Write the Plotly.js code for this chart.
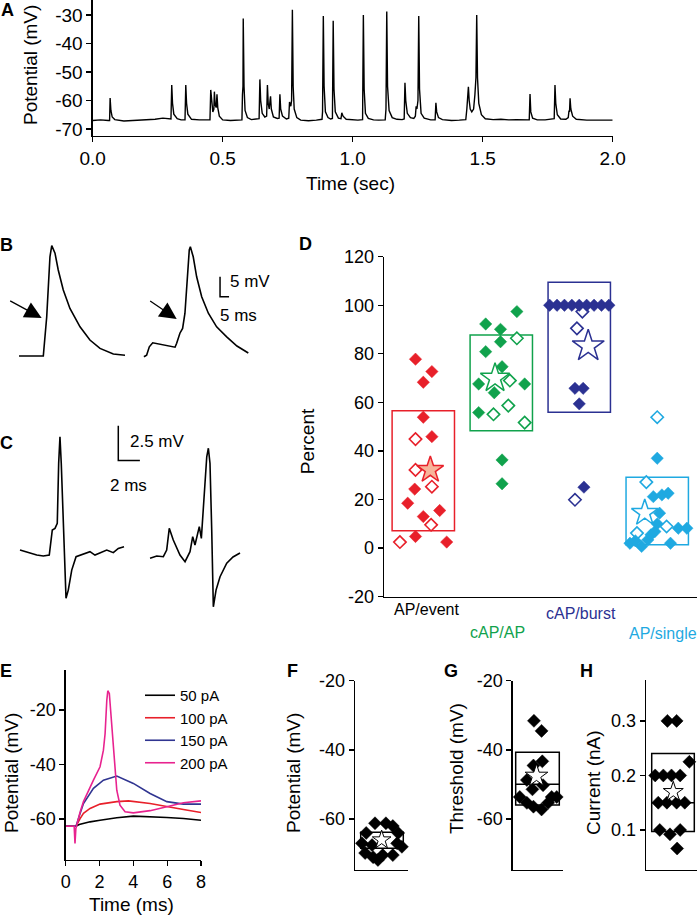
<!DOCTYPE html>
<html><head><meta charset="utf-8">
<script src="https://cdn.plot.ly/plotly-3.0.1.min.js"></script>
<style>html,body{margin:0;padding:0;background:#fff}#chart{width:700px;height:916px}</style>
</head><body><div id="chart"></div>
<script>
// ---------- Panel A: spontaneous trace (time s, potential mV) ----------
const tA = [0,0.03,0.06,0.065,0.067,0.070,0.075,0.085,0.12,0.16,0.2,0.24,0.27,0.29,0.301,0.304,0.307,0.312,0.325,0.34,0.355,0.358,0.361,0.366,0.38,0.41,0.44,0.451,0.454,0.458,0.462,0.466,0.468,0.471,0.475,0.478,0.481,0.487,0.5,0.53,0.56,0.574,0.576,0.578,0.579,0.582,0.586,0.595,0.61,0.63,0.64,0.643,0.646,0.652,0.662,0.669,0.672,0.675,0.679,0.682,0.684,0.687,0.695,0.71,0.717,0.72,0.723,0.73,0.745,0.754,0.757,0.762,0.765,0.768,0.771,0.775,0.785,0.8,0.83,0.86,0.882,0.884,0.887,0.89,0.895,0.905,0.915,0.922,0.925,0.928,0.933,0.945,0.955,0.958,0.963,0.975,1.0,1.02,1.038,1.041,1.044,1.049,1.06,1.08,1.1,1.125,1.128,1.131,1.134,1.14,1.152,1.17,1.19,1.198,1.201,1.204,1.21,1.222,1.235,1.241,1.244,1.247,1.251,1.254,1.257,1.263,1.275,1.3,1.317,1.32,1.323,1.33,1.345,1.38,1.41,1.435,1.439,1.442,1.445,1.448,1.452,1.458,1.465,1.47,1.474,1.477,1.48,1.485,1.495,1.51,1.54,1.57,1.6,1.63,1.66,1.679,1.682,1.685,1.692,1.71,1.74,1.765,1.775,1.778,1.781,1.787,1.8,1.82,1.829,1.832,1.834,1.836,1.839,1.846,1.86,1.9,1.95,2.0];
const vA = [-67.0,-66.8,-67.0,-67.0,-59.1,-63.5,-65.8,-66.7,-67.2,-67.0,-66.9,-66.6,-66.2,-66.4,-66.5,-54.6,-61,-64.8,-66.4,-66.8,-66.8,-54.6,-61,-64.8,-66.6,-66.8,-66.9,-66.8,-56.3,-62,-64,-63,-56.9,-61.5,-62.5,-57.8,-62.5,-65.5,-66.8,-67.0,-66.9,-66.8,-58,-55,-31.2,-55,-63.5,-66,-66.7,-66.6,-66.4,-52.6,-60,-64.5,-65.8,-65.5,-54.6,-61,-63,-60,-58.5,-63,-65.8,-66.3,-66.2,-57.8,-63,-65.5,-66.5,-66.2,-60.5,-62,-60,-28.2,-55,-63,-66,-66.9,-67.1,-66.9,-66.6,-64,-30.4,-55,-64,-66,-66.5,-66.3,-32.0,-56,-64,-66.2,-66.4,-64.3,-65.5,-66.6,-66.9,-66.9,-66.7,-30.0,-56,-64.5,-66.3,-66.8,-66.9,-66.8,-63,-28.8,-55,-63.5,-66,-66.6,-66.7,-66.5,-53.8,-60,-64.5,-66,-66.3,-65.5,-62,-63,-60,-30.4,-56,-64.5,-66.2,-66.8,-66.8,-60.8,-64,-66,-66.7,-67.0,-66.9,-66.7,-63,-57,-55.2,-60,-63,-64,-63,-58,-52,-30.0,-52,-61,-65,-66.4,-66.7,-66.6,-66.8,-66.7,-66.9,-66.8,-57.7,-64,-66.2,-66.8,-66.8,-66.6,-66.4,-54.6,-61,-65,-66.5,-66.6,-66,-63.5,-64,-59.2,-63,-65.5,-66.6,-66.9,-66.9,-66.9];
const tickA_x = [0,0.5,1,1.5,2];
const tickA_xText = ['0.0','0.5','1.0','1.5','2.0'];
const tickA_y = [-70,-60,-50,-40,-30];

// ---------- Panel B: two events (ms, mV relative to baseline) ----------
const bLeftX = [0,13.5,15.4,17.2,18.2,20,21.8,24.6,28.3,33.9,39.4,45,52.4,58.9];
const bLeftY = [0,0,9.8,24.8,27.6,25.7,21.5,16.5,11.9,7.3,4,1.9,0.5,0.2];
const bRightX = [69.4,70.9,72.4,74.3,86.7,87.6,89.4,90.9,92.2,93.5,94.6,95.2,96.8,98.7,101.5,105.2,109.8,115.4,121.1,127.4];
const bRightY = [-0.2,0.2,2.3,3.3,2.2,3.2,5.7,6.9,10.7,19,26.5,27.3,24.8,19.8,14.8,10.7,7.3,4.8,2.5,0.75];
const bArrowX = [12.6,87.6];
const bArrowY = [9.5,9.25];
const bScale = {x0:111.7, y0:14.8, dx:5, dy:5};

// ---------- Panel C: extracellular events (ms, mV) ----------
const cLeftX = [0,0.46,0.93,1.55,2.16,2.71,2.84,2.99,3.24,3.45,3.58,3.7,3.82,4.01,4.17,4.26,4.47,4.79,5.19,5.56,6.02,6.48,6.94,7.41,8.03,8.64,9.1,9.63];
const cLeftY = [0.12,0,-0.12,-0.24,-0.31,-0.24,0.6,1.56,1.68,2.04,6.36,8.27,6.36,2.04,-2.04,-3.35,-2.76,-1.32,-0.36,-0.24,-0.12,0,-0.24,-0.07,0.12,-0.07,0.24,0.36];
const cRightX = [12.04,12.66,13.27,13.58,13.82,14.19,14.81,15.28,15.74,15.99,16.2,16.6,16.79,17.04,17.29,17.44,17.59,17.75,17.9,18.15,18.52,19.14,19.72,20.37];
const cRightY = [-0.47,-0.31,-0.36,0.12,1.68,0.84,-0.24,-0.72,0,1.08,0.48,1.8,0.96,3.96,6.83,7.44,6.36,1.56,-3.96,-2.76,-1.8,-0.83,-0.38,-0.09];
const cScale = {x0:9.1, y0:6.55, dx:2, dy:2.5};

// ---------- Panel D: percent per category ----------
const dCategories = ['AP/event','cAP/AP','cAP/burst','AP/single'];
const dBoxLow  = [7.2, 48.3, 56.0, 1.4];
const dBoxHigh = [56.6, 87.8, 109.5, 29.2];
const redFilledX = [0.90,1.11,1.00,1.00,1.11,0.89,0.80,1.00,1.21,0.90,1.30];
const redFilledY = [77.8,72.7,68.3,53.9,45.9,24.3,18.5,13.0,15.5,4.8,2.5];
const redOpenX = [0.90,0.90,1.11,1.10,0.70];
const redOpenY = [44.9,32.2,25.3,9.6,2.5];
const greenFilledX = [2.20,1.80,1.99,1.99,1.80,2.01,1.71,2.30,1.91,1.71,2.01,2.01];
const greenFilledY = [97.4,92.3,90.1,85.0,80.9,74.7,67.6,67.6,64.0,55.8,36.3,26.5];
const greenOpenX = [2.20,2.11,2.09,1.90,2.30];
const greenOpenY = [86.4,69.0,58.7,55.1,51.7];
const blueFilledX = [2.62,2.715,2.81,2.905,3.0,3.095,3.19,3.285,3.38,2.945,3.05,3.0,3.06];
const blueFilledY = [100,100,100,100,100,100,100,100,100,65.8,65.8,59.4,25.1];
const blueOpenX = [3.04,2.97,2.945];
const blueOpenY = [97.4,90.5,19.9];
const cyanFilledX = [4.00,3.95,4.06,4.14,4.03,3.65,3.72,3.80,3.88,3.92,3.97,4.00,4.17,4.27,4.38];
const cyanFilledY = [37.0,21.2,21.9,22.6,14.4,2.0,3.0,0.7,3.4,5.5,6.8,10.0,2.0,8.2,8.2];
const cyanOpenX = [4.00,3.86,3.74,4.12];
const cyanOpenY = [53.9,27.2,6.2,8.9];
const dStarX = [1.09,1.92,3.115,3.84];
const dStarY = [32.2,70.0,83.2,14.5];
const dTicks = [-20,0,20,40,60,80,100,120];

// ---------- Panel E: responses to current steps (ms, mV) ----------
const eLabels = ['50 pA','100 pA','150 pA','200 pA'];
const e50X = [0,0.55,0.61,0.8,1.05,1.44,2.03,3.02,4.0,4.99,5.98,6.96,8.0];
const e50Y = [-62.6,-62.6,-62.6,-62.0,-61.6,-61.0,-60.4,-59.5,-58.9,-59.1,-59.4,-59.8,-60.4];
const e100X = [0,0.55,0.61,0.85,1.05,1.44,2.03,3.02,3.71,4.99,5.98,6.96,8.0];
const e100Y = [-62.6,-62.6,-62.6,-59.8,-57.9,-56.1,-54.5,-53.6,-53.3,-54.3,-55.5,-56.5,-57.6];
const e150X = [0,0.55,0.61,0.85,1.05,1.64,2.23,3.02,4.0,4.99,5.98,6.96,8.0];
const e150Y = [-62.6,-62.6,-62.6,-57.9,-54.3,-48.7,-45.7,-44.2,-46.9,-50.6,-53.6,-54.5,-54.5];
const e200X = [0,0.5,0.55,0.6,0.85,1.05,1.64,2.03,2.23,2.33,2.43,2.49,2.58,2.68,2.82,3.02,3.21,3.51,4.0,4.99,5.98,6.96,8.0];
const e200Y = [-62.6,-62.6,-68.9,-63.5,-57.5,-53.6,-45.7,-40.8,-34.7,-28.6,-16.4,-12.9,-13.9,-22.4,-34.7,-49.4,-54.9,-57.3,-57.7,-56.9,-55.5,-54.0,-53.3];
const mvTicks = [-60,-40,-20];

// ---------- Panels F, G, H ----------
const fX = [0.375,0.58,0.71,0.21,0.81,0.13,0.32,0.79,0.88,0.19,0.34,0.52,0.71,0.43];
const fY = [-61.2,-61.2,-62,-64,-64,-67,-67.5,-67,-68,-69.8,-71,-70.4,-70.4,-71.8];
const fStar = {x:0.5, y:-66};
const fBox = {low:-68.4, high:-63.8};
const gX = [0.42,0.57,0.585,0.41,0.28,0.60,0.39,0.14,0.77,0.87,0.28,0.41,0.57,0.70];
const gY = [-31.6,-34.5,-43.3,-44.5,-48.7,-50.2,-51.4,-53.6,-53.6,-53.6,-55.3,-56.4,-57.2,-55.3];
const gStar = {x:0.47, y:-47.5};
const gBox = {low:-55.9, high:-40.7, median:-49.9};
const hX = [0.42,0.60,0.85,0.18,0.34,0.50,0.67,0.24,0.41,0.60,0.76,0.27,0.67,0.47,0.61];
const hY = [0.3,0.3,0.225,0.2,0.2,0.2,0.2,0.15,0.15,0.15,0.15,0.1,0.1,0.092,0.066];
const hStar = {x:0.535, y:0.17};
const hBox = {low:0.097, high:0.24, median:0.15};
const hTicks = [0.1,0.2,0.3];

// ---------- styling ----------
const W = 700, H = 916;
const px = x => x / W;
const py = y => 1 - y / H;
const FONT = 'Liberation Sans, Arial, Helvetica, sans-serif';
const RED = '#e8202a', GREEN = '#10a24c', NAVY = '#2b3192', CYAN = '#1fa9e1';
const hy = v => String(v); // plain hyphen-minus labels as in the original

function ax(extra) {
  return Object.assign({showgrid:false, zeroline:false, showline:true, linecolor:'#000', linewidth:1.3,
    ticks:'outside', ticklen:5, tickwidth:1.3, tickcolor:'#000', tickfont:{size:18, color:'#000'},
    fixedrange:true}, extra);
}
function hidden(extra) {
  return Object.assign({visible:false, showgrid:false, zeroline:false, fixedrange:true}, extra);
}
function line(x, y, xa, ya, color, width, extra) {
  return Object.assign({type:'scatter', mode:'lines', x:x, y:y, xaxis:xa, yaxis:ya,
    line:{color:color, width:width || 1.5}, showlegend:false, hoverinfo:'skip', cliponaxis:false}, extra || {});
}
function pts(x, y, xa, ya, fill, edge, size, symbol, lw) {
  return {type:'scatter', mode:'markers', x:x, y:y, xaxis:xa, yaxis:ya, showlegend:false,
    cliponaxis:false, hoverinfo:'skip',
    marker:{symbol:symbol || 'diamond', size:size, color:fill, line:{color:edge, width:lw}}};
}
function scaleBar(s, xa, ya) {
  return line([s.x0, s.x0, s.x0 + s.dx], [s.y0 + s.dy, s.y0, s.y0], xa, ya, '#000', 1.5);
}

const traces = [];
// A
traces.push(line(tA, vA, 'x', 'y', '#000', 1.4));
// B
traces.push(line(bLeftX, bLeftY, 'x2', 'y2', '#000', 1.6));
traces.push(line(bRightX, bRightY, 'x2', 'y2', '#000', 1.6));
traces.push(scaleBar(bScale, 'x2', 'y2'));
// C
traces.push(line(cLeftX, cLeftY, 'x3', 'y3', '#000', 1.6));
traces.push(line(cRightX, cRightY, 'x3', 'y3', '#000', 1.6));
traces.push(scaleBar(cScale, 'x3', 'y3'));
// D
const dGroups = [
  {fx:redFilledX, fy:redFilledY, ox:redOpenX, oy:redOpenY, c:RED, starFill:'#f7b49a', starSize:20},
  {fx:greenFilledX, fy:greenFilledY, ox:greenOpenX, oy:greenOpenY, c:GREEN, starFill:'#ffffff', starSize:22},
  {fx:blueFilledX, fy:blueFilledY, ox:blueOpenX, oy:blueOpenY, c:NAVY, starFill:'#ffffff', starSize:24},
  {fx:cyanFilledX, fy:cyanFilledY, ox:cyanOpenX, oy:cyanOpenY, c:CYAN, starFill:'#ffffff', starSize:20}
];
dGroups.forEach((g, i) => {
  traces.push(pts(g.ox, g.oy, 'x4', 'y4', '#ffffff', g.c, 9.5, 'diamond', 1.6));
  traces.push(pts(g.fx, g.fy, 'x4', 'y4', g.c, g.c, 9.5, 'diamond', 0.5));
  traces.push(pts([dStarX[i]], [dStarY[i]], 'x4', 'y4', g.starFill, g.c, g.starSize, 'star', 1.5));
});
// E
const eSeries = [[e50X, e50Y, '#000000'], [e100X, e100Y, '#e8202a'], [e150X, e150Y, '#303591'], [e200X, e200Y, '#e8238f']];
eSeries.forEach((s, i) => {
  traces.push(line(s[0], s[1], 'x5', 'y5', s[2], 1.6, {name:eLabels[i], showlegend:true, cliponaxis:true}));
});
// F, G, H
traces.push(pts(fX, fY, 'x6', 'y6', '#000', '#000', 10, 'diamond', 0.5));
traces.push(pts([fStar.x], [fStar.y], 'x6', 'y6', '#fff', '#000', 14, 'star', 1));
traces.push(pts(gX, gY, 'x7', 'y7', '#000', '#000', 10, 'diamond', 0.5));
traces.push(pts([gStar.x], [gStar.y], 'x7', 'y7', '#fff', '#000', 17, 'star', 1));
traces.push(pts(hX, hY, 'x8', 'y8', '#000', '#000', 10, 'diamond', 0.5));
traces.push(pts([hStar.x], [hStar.y], 'x8', 'y8', '#fff', '#000', 15, 'star', 1));

// boxes as shapes (drawn below traces)
const shapes = [];
const dColors = [RED, GREEN, NAVY, CYAN];
dBoxLow.forEach((lo, i) => {
  shapes.push({type:'rect', xref:'x4', yref:'y4', x0:i + 1 - 0.4, x1:i + 1 + 0.4, y0:lo, y1:dBoxHigh[i],
    line:{color:dColors[i], width:1.5}, layer:'below'});
});
function boxShapes(b, xa, ya, x0, x1) {
  shapes.push({type:'rect', xref:xa, yref:ya, x0:x0, x1:x1, y0:b.low, y1:b.high, line:{color:'#000', width:1.5}, layer:'below'});
  if (b.median !== undefined) shapes.push({type:'line', xref:xa, yref:ya, x0:x0, x1:x1, y0:b.median, y1:b.median, line:{color:'#000', width:1.5}, layer:'below'});
}
boxShapes(fBox, 'x6', 'y6', 0.107, 0.906);
boxShapes(gBox, 'x7', 'y7', 0.059, 0.921);
boxShapes(hBox, 'x8', 'y8', 0.112, 0.947);

// annotations
const ann = [];
function txt(text, x, y, opts) {
  ann.push(Object.assign({text:text, x:x, y:y, xref:'paper', yref:'paper', showarrow:false,
    xanchor:'center', yanchor:'middle', font:{size:19, color:'#000', family:FONT}}, opts || {}));
}
// panel letters
[['A',7,10],['B',6,245],['C',6,443],['D',305,244],['E',6,671],['F',292,671],['G',451,671],['H',586,671]].forEach(l => {
  txt('<b>' + l[0] + '</b>', px(l[1]), py(l[2]), {font:{size:18, color:'#000', family:FONT}});
});
// axis titles
txt('Potential (mV)', px(30), py(65), {textangle:-90});
txt('Time (sec)', px(350), py(183));
txt('Percent', px(307.5), py(441.7), {textangle:-90});
txt('Potential (mV)', px(11), py(773), {textangle:-90});
txt('Time (ms)', px(131), py(904));
txt('Potential (mV)', px(293), py(773), {textangle:-90});
txt('Threshold (mV)', px(456), py(769), {textangle:-90});
txt('Current (nA)', px(593), py(783), {textangle:-90});
// D category labels
const catPos = [[426.7,609,'#000'],[497.5,632,GREEN],[580.8,613,NAVY],[662.5,633,CYAN]];
dCategories.forEach((c, i) => {
  txt(c, px(catPos[i][0]), py(catPos[i][1]), {font:{size:16, color:catPos[i][2], family:FONT}});
});
// scale bar labels
txt('5 mV', px(228), py(281.7), {xanchor:'left', font:{size:17, color:'#000', family:FONT}});
txt('5 ms', px(218), py(315), {xanchor:'left', font:{size:17, color:'#000', family:FONT}});
txt('2.5 mV', px(128), py(441.7), {xanchor:'left', font:{size:17, color:'#000', family:FONT}});
txt('2 ms', px(108), py(485), {xanchor:'left', font:{size:17, color:'#000', family:FONT}});
// arrows in B
const arrowTail = [[-33, -18], [-28, -19]];
bArrowX.forEach((x, i) => {
  ann.push({x:x, y:bArrowY[i], xref:'x2', yref:'y2', text:'', showarrow:true, arrowhead:2,
    arrowsize:2.6, arrowwidth:1.3, arrowcolor:'#000', ax:arrowTail[i][0], ay:arrowTail[i][1], standoff:0});
});

const layout = {
  width:W, height:H, margin:{l:0, r:0, t:0, b:0}, paper_bgcolor:'#fff', plot_bgcolor:'rgba(0,0,0,0)',
  font:{family:FONT, color:'#000', size:18},
  showlegend:true,
  legend:{x:px(140), y:py(679), xanchor:'left', yanchor:'top', font:{size:15, color:'#000'},
    bgcolor:'rgba(0,0,0,0)', itemwidth:30, tracegroupgap:0},
  xaxis: ax({domain:[px(92.7), px(612.7)], range:[0,2], anchor:'y', tickvals:tickA_x, ticktext:tickA_xText, tickfont:{size:19}}),
  yaxis: ax({domain:[py(136), 1], range:[-72.46,-24.74], anchor:'x', tickvals:tickA_y, ticktext:tickA_y.map(hy), tickfont:{size:19}}),
  xaxis2: hidden({domain:[0, px(260)], range:[-10.56,133.9], anchor:'y2'}),
  yaxis2: hidden({domain:[py(365), py(235)], range:[-2.25,30.25], anchor:'x2'}),
  xaxis3: hidden({domain:[0, px(260)], range:[-1.852,22.22], anchor:'y3'}),
  yaxis3: hidden({domain:[py(625), py(410)], range:[-5.27,10.19], anchor:'x3'}),
  xaxis4: ax({domain:[px(384), px(697)], range:[0.496,4.51], anchor:'y4', ticks:'', showticklabels:false}),
  yaxis4: ax({domain:[py(596.7), py(256.7)], range:[-20,120], anchor:'x4', tickvals:dTicks, ticktext:dTicks.map(hy)}),
  xaxis5: ax({domain:[px(65.7), px(201)], range:[0,8], anchor:'y5', tickvals:[0,2,4,6,8]}),
  yaxis5: ax({domain:[py(860), py(670)], range:[-75,-5.3], anchor:'x5', tickvals:mvTicks, ticktext:mvTicks.map(hy)}),
  xaxis6: ax({domain:[px(355), px(408.3)], range:[0,1], anchor:'y6', ticks:'', showticklabels:false}),
  yaxis6: ax({domain:[py(870), py(680.7)], range:[-74.7,-20], anchor:'x6', tickvals:mvTicks, ticktext:mvTicks.map(hy)}),
  xaxis7: ax({domain:[px(512.7), px(563.3)], range:[0,1], anchor:'y7', ticks:'', showticklabels:false}),
  yaxis7: ax({domain:[py(870), py(680.7)], range:[-74.7,-20], anchor:'x7', tickvals:mvTicks, ticktext:mvTicks.map(hy)}),
  xaxis8: ax({domain:[px(646), px(697)], range:[0,1], anchor:'y8', ticks:'', showticklabels:false}),
  yaxis8: ax({domain:[py(870), py(680)], range:[0.0266,0.375], anchor:'x8', tickvals:hTicks, ticktext:['0.1','0.2','0.3']}),
  shapes:shapes,
  annotations:ann
};

Plotly.newPlot('chart', traces, layout, {staticPlot:true, displayModeBar:false});
</script></body></html>
